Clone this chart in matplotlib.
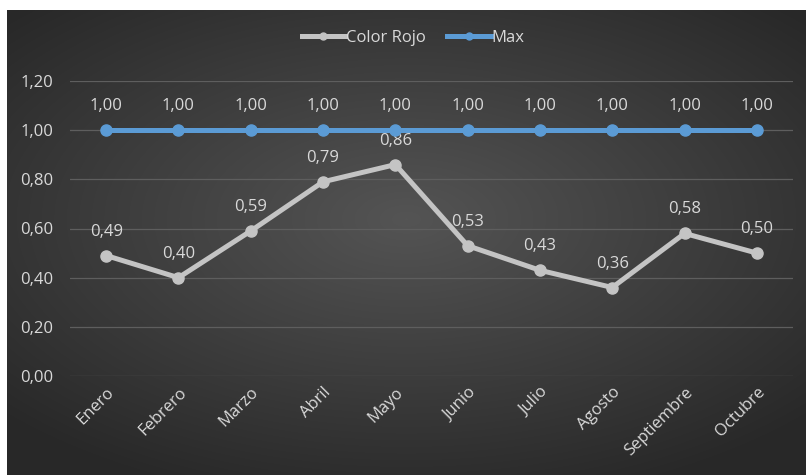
import numpy as np
import matplotlib
matplotlib.use("Agg")
import matplotlib.pyplot as plt
from matplotlib.lines import Line2D

months = ["Enero", "Febrero", "Marzo", "Abril", "Mayo", "Junio", "Julio",
          "Agosto", "Septiembre", "Octubre"]
color_rojo = [0.49, 0.40, 0.59, 0.79, 0.86, 0.53, 0.43, 0.36, 0.58, 0.50]
max_vals = [1.00] * 10
yticks = [0.0, 0.2, 0.4, 0.6, 0.8, 1.0, 1.2]

plt.rcParams['font.family'] = ['Open Sans', 'DejaVu Sans']
W, H = 806, 475
fig = plt.figure(figsize=(W / 100, H / 100), dpi=100, facecolor="white")

# background panel with radial gradient
bg = fig.add_axes([7 / W, 0, 1 - 7 / W, 1 - 10 / H])
bg.set_axis_off()
yy, xx = np.mgrid[-1:1:300j, -1:1:500j]
r = np.sqrt((xx / 1.2) ** 2 + ((yy + 0.1) / 1.1) ** 2)
light = np.clip(0.33 - 0.15 * r, 0.16, 0.33)
img = np.dstack([light, light, light])
bg.imshow(img, aspect="auto", extent=[0, 1, 0, 1], interpolation="bilinear")
bg.set_xlim(0, 1)
bg.set_ylim(0, 1)

ax = fig.add_axes([70 / W, 1 - 376 / H, 723 / W, (376 - 81) / H])
ax.patch.set_alpha(0)
x = np.arange(len(months))
gray = "#c4c4c4"
blue = "#5b9bd5"
txt = "#d9d9d9"
fs = 12

ax.plot(x, color_rojo, color=gray, lw=3.6, marker="o", ms=8, zorder=3)
ax.plot(x, max_vals, color=blue, lw=3.6, marker="o", ms=8, zorder=4)

for xi, v in zip(x, color_rojo):
    ax.annotate(f"{v:.2f}".replace(".", ","), (xi, v), xytext=(0, 11.5),
                textcoords="offset points", ha="center", va="bottom",
                color=txt, fontsize=fs)
for xi, v in zip(x, max_vals):
    ax.annotate(f"{v:.2f}".replace(".", ","), (xi, v), xytext=(0, 11.5),
                textcoords="offset points", ha="center", va="bottom",
                color=txt, fontsize=fs)

ax.set_xlim(-0.5, len(months) - 0.5)
ax.set_ylim(0, 1.2)
ax.set_yticks(yticks)
ax.set_yticklabels([f"{t:.2f}".replace(".", ",") for t in yticks],
                   color=txt, fontsize=fs)
ax.set_xticks(x)
ax.set_xticklabels(months, rotation=45, ha="right", rotation_mode="anchor",
                   color=txt, fontsize=fs)
ax.tick_params(length=0, pad=6)
ax.tick_params(axis="y", pad=12)
ax.grid(axis="y", color="#5e5e5e", lw=0.9)
ax.set_axisbelow(True)
for s in ax.spines.values():
    s.set_visible(False)

handles = [Line2D([], [], color=gray, lw=3.6, marker="o", ms=5),
           Line2D([], [], color=blue, lw=3.6, marker="o", ms=5)]
fig.legend(handles, ["Color Rojo", "Max"], loc="center",
           bbox_to_anchor=(413 / W, 1 - 38 / H), ncol=2, frameon=False,
           labelcolor=txt, fontsize=fs, handlelength=2.6, handletextpad=0.05,
           columnspacing=1.3)

fig.savefig("out.png", dpi=100, facecolor="white")
